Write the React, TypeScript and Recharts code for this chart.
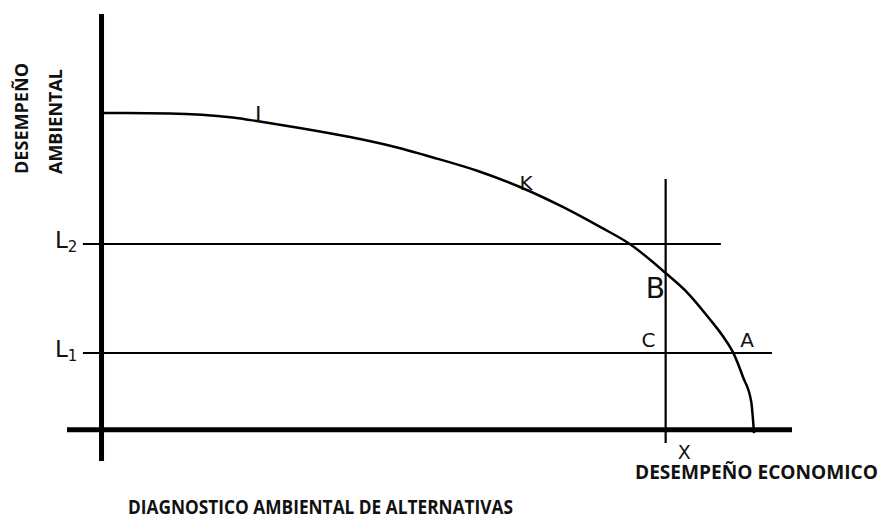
import {
  ComposedChart,
  Customized,
  Line,
  ReferenceDot,
  ReferenceLine,
  XAxis,
  YAxis,
} from "recharts";

// frontier curve (economic performance vs environmental performance)
const curveEcon = [
  0, 9.9, 19.0, 22.7, 28.7, 36.0, 41.8, 48.0, 54.4, 60.6, 66.8, 72.2, 76.5,
  81.7, 84.9, 88.1, 90.0, 91.5, 92.9, 94.1, 94.5,
];
const curveEnv = [
  76.2, 76.1, 75.1, 74.2, 72.6, 70.4, 68.3, 65.5, 62.3, 58.4, 53.6, 48.8, 44.7,
  37.7, 32.9, 26.6, 22.5, 18.5, 12.7, 6.7, -0.8,
];

// minimum environmental levels and the economic cut-off X
const levelNames = ["L1", "L2"];
const levelValues = [18.5, 44.7];
const levelEnds = [97.1, 89.7];
const cutX = 81.7;

// point letters placed on the diagram
const markNames = ["I", "K", "B", "C", "A", "X"];
const markEcon = [22.7, 61.5, 80.2, 79.2, 93.5, 84.4];
const markEnv = [74.0, 57.7, 31.7, 19.9, 19.9, -6.9];

const curveData = curveEcon.map((econ, i) => ({ econ, env: curveEnv[i] }));

const X_MIN = -5;
const X_MAX = 100;
const Y_MIN = -7.5;
const Y_MAX = 100;
const LINE_START = -2.7;

const letterFont = "'DejaVu Sans', sans-serif";
const titleFont = "'Open Sans', sans-serif";
const markSize: Record<string, number> = { B: 28, I: 22, X: 19 };

function Titles() {
  return (
    <g fontFamily={titleFont} fontWeight={700} fill="#111">
      <text
        x={28}
        y={174}
        fontSize={18}
        textLength={111}
        lengthAdjust="spacingAndGlyphs"
        transform="rotate(-90 28 174)"
      >
        DESEMPEÑO
      </text>
      <text
        x={62}
        y={174}
        fontSize={18}
        textLength={105}
        lengthAdjust="spacingAndGlyphs"
        transform="rotate(-90 62 174)"
      >
        AMBIENTAL
      </text>
      <text
        x={635}
        y={479}
        fontSize={19}
        textLength={243}
        lengthAdjust="spacingAndGlyphs"
      >
        DESEMPEÑO ECONOMICO
      </text>
      <text
        x={128}
        y={514}
        fontSize={20}
        textLength={385}
        lengthAdjust="spacingAndGlyphs"
      >
        DIAGNOSTICO AMBIENTAL DE ALTERNATIVAS
      </text>
    </g>
  );
}

export default function App() {
  return (
    <div
      style={{
        position: "absolute",
        left: 0,
        top: 0,
        width: 882,
        height: 518,
        background: "#fff",
      }}
    >
      <ComposedChart
        width={882}
        height={518}
        data={curveData}
        margin={{ top: 14, right: 90, bottom: 57, left: 67 }}
      >
        <XAxis
          type="number"
          dataKey="econ"
          domain={[X_MIN, X_MAX]}
          allowDataOverflow
          hide
        />
        <YAxis type="number" domain={[Y_MIN, Y_MAX]} allowDataOverflow hide />

        {levelValues.map((v, i) => (
          <ReferenceLine
            key={levelNames[i]}
            segment={[
              { x: LINE_START, y: v },
              { x: levelEnds[i], y: v },
            ]}
            stroke="#000"
            strokeWidth={2}
            ifOverflow="visible"
          />
        ))}
        <ReferenceLine
          segment={[
            { x: cutX, y: -3.2 },
            { x: cutX, y: 60.3 },
          ]}
          stroke="#000"
          strokeWidth={2.2}
          ifOverflow="visible"
        />

        {/* axes */}
        <ReferenceLine
          segment={[
            { x: 0, y: Y_MIN },
            { x: 0, y: Y_MAX },
          ]}
          stroke="#000"
          strokeWidth={5}
          ifOverflow="visible"
        />
        <ReferenceLine
          segment={[
            { x: X_MIN, y: 0 },
            { x: X_MAX, y: 0 },
          ]}
          stroke="#000"
          strokeWidth={5}
          ifOverflow="visible"
        />

        <Line
          dataKey="env"
          type="monotone"
          stroke="#000"
          strokeWidth={2.5}
          dot={false}
          isAnimationActive={false}
        />

        {levelValues.map((v, i) => (
          <ReferenceDot
            key={"lbl" + levelNames[i]}
            x={-3.5}
            y={v}
            ifOverflow="visible"
            shape={(p: any) => (
              <text
                x={p.cx}
                y={p.cy + 4}
                fontFamily={letterFont}
                fontSize={23}
                fill="#111"
                textAnchor="end"
              >
                L
                <tspan fontSize={15} dy={4}>
                  {levelNames[i].slice(1)}
                </tspan>
              </text>
            )}
          />
        ))}

        {markNames.map((name, i) => (
          <ReferenceDot
            key={name}
            x={markEcon[i]}
            y={markEnv[i]}
            ifOverflow="visible"
            shape={(p: any) => (
              <text
                x={p.cx}
                y={p.cy}
                fontFamily={letterFont}
                fontSize={markSize[name] ?? 20}
                fill="#111"
                textAnchor="middle"
              >
                {name}
              </text>
            )}
          />
        ))}

        <Customized component={<Titles />} />
      </ComposedChart>
    </div>
  );
}
